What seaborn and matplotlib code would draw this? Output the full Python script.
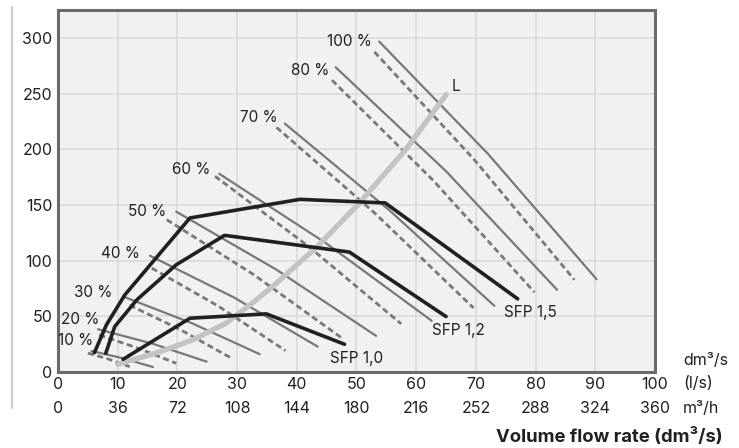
import matplotlib
matplotlib.use("Agg")
import matplotlib.pyplot as plt
from matplotlib.lines import Line2D
import seaborn as sns

# fan speed curves, start / middle / end point
speeds = ["10 %", "20 %", "30 %", "40 %", "50 %", "60 %", "70 %", "80 %", "100 %"]
solid_x = [[5.6, 10.75, 15.9], [6.7, 15.8, 24.9], [10.9, 22.35, 33.8], [15.4, 29.45, 43.5],
           [19.8, 36.55, 53.3], [27.0, 44.8, 62.6], [38.0, 55.55, 73.1], [46.5, 65.05, 83.6],
           [53.8, 72.0, 90.2]]
solid_y = [[18.9, 12.5, 4.5], [38.4, 25.5, 9.3], [67.8, 44.0, 16.0], [104.4, 67.0, 22.8],
           [144.0, 92.0, 32.4], [178.0, 116.0, 46.0], [223.0, 145.0, 59.4], [273.6, 180.0, 73.8],
           [296.7, 196.0, 83.4]]
dashed_x = [[5.0, 8.5, 12.0], [6.9, 13.35, 19.8], [12.0, 20.5, 29.0], [15.7, 26.9, 38.1],
            [18.2, 32.9, 47.6], [26.3, 41.9, 57.5], [36.6, 53.1, 69.6], [45.9, 62.85, 79.8],
            [53.0, 69.75, 86.5]]
dashed_y = [[17.0, 11.5, 4.8], [33.3, 21.5, 7.8], [60.0, 38.0, 12.6], [93.3, 59.0, 19.2],
            [136.8, 87.0, 30.3], [175.8, 113.0, 43.2], [219.6, 142.5, 57.5], [262.0, 172.0, 71.7],
            [287.4, 190.5, 82.8]]
# where the speed labels sit (right edge of text)
label_x = [5.9, 6.9, 9.15, 13.7, 18.2, 25.6, 36.8, 45.5, 52.5]
label_y = [28.1, 47.3, 71.0, 106.0, 144.4, 182.2, 228.4, 270.5, 296.5]

# system curve L
l_x = [10.0, 17.0, 22.6, 28.2, 32.1, 36.0, 43.3, 50.2, 58.3, 65.0]
l_y = [7.0, 18.0, 29.0, 44.0, 60.0, 77.0, 112.0, 150.0, 200.0, 249.0]

# SFP lines
sfp_names = ["SFP 1,0", "SFP 1,2", "SFP 1,5"]
sfp_x = [[10.9, 22.1, 34.9, 48.0],
         [8.0, 9.5, 13.2, 19.8, 27.9, 48.8, 65.0],
         [6.1, 8.1, 11.2, 22.1, 40.5, 54.8, 77.0]]
sfp_y = [[11.4, 48.3, 52.2, 24.9],
         [16.8, 40.8, 64.8, 96.3, 122.7, 107.7, 49.8],
         [17.4, 42.3, 69.3, 138.3, 155.0, 151.8, 65.7]]

x_ticks = [0, 10, 20, 30, 40, 50, 60, 70, 80, 90, 100]
m3h = [0, 36, 72, 108, 144, 180, 216, 252, 288, 324, 360]
y_ticks = [0, 50, 100, 150, 200, 250, 300]

sns.set_theme(style="whitegrid")
plt.rcParams["font.family"] = ["Inter", "DejaVu Sans"]
text_col = "#231f20"
gray = "#787878"
fs = 11.5
fs_in = 11

fig = plt.figure(figsize=(7.39, 4.48), dpi=100)
ax = fig.add_axes([0.0785, 0.1696, 0.8078, 0.8081])
ax.set_facecolor("#f0f1f1")

for i in range(len(speeds)):
    sns.lineplot(x=dashed_x[i], y=dashed_y[i], ax=ax, color=gray, linewidth=2.0,
                 linestyle=(0, (2.2, 1.3)), sort=False, estimator=None)
    sns.lineplot(x=solid_x[i], y=solid_y[i], ax=ax, color=gray, linewidth=1.6,
                 sort=False, estimator=None)
    ax.text(label_x[i], label_y[i], speeds[i], ha="right", va="center",
            fontsize=fs_in, color=text_col)

sns.lineplot(x=l_x, y=l_y, ax=ax, color="#c3c3c3", linewidth=3.8, sort=False, estimator=None)
ax.annotate("L", xy=(l_x[-1], l_y[-1]), xytext=(7, 6), textcoords="offset points",
            ha="center", va="center", fontsize=fs_in, color=text_col)

for name, xs, ys in zip(sfp_names, sfp_x, sfp_y):
    sns.lineplot(x=xs, y=ys, ax=ax, color=text_col, linewidth=2.6, sort=False, estimator=None)
    ax.annotate(name, xy=(xs[-1], ys[-1]), xytext=(9, -10), textcoords="offset points",
                ha="center", va="center", fontsize=fs_in, color=text_col)

ax.set_xlim(0, 100)
ax.set_ylim(0, 325)
ax.set_xticks(x_ticks)
ax.set_yticks(y_ticks)
ax.set_xticklabels([str(v) for v in x_ticks])
ax.set_yticklabels([str(v) for v in y_ticks])
ax.tick_params(length=0, labelsize=fs, colors=text_col)
ax.tick_params(axis="x", pad=3.5)
ax.tick_params(axis="y", pad=4)
ax.grid(True, color="#d9d9d9", linewidth=1.1)
ax.set_xlabel("")
ax.set_ylabel("")
for s in ax.spines.values():
    s.set_visible(True)
    s.set_color("#6b6b6b")
    s.set_linewidth(2.2)

# second row of x labels in m3/h
for v, m in zip(x_ticks, m3h):
    ax.annotate(str(m), xy=(v, 0), xycoords=("data", "axes fraction"), xytext=(0, -26),
                textcoords="offset points", ha="center", va="center", fontsize=fs, color=text_col)

fig.text(683 / 739, 1 - 360 / 448, "dm³/s", ha="left", va="center", fontsize=fs, color=text_col)
fig.text(683 / 739, 1 - 384 / 448, "(l/s)", ha="left", va="center", fontsize=fs, color=text_col)
fig.text(683 / 739, 1 - 408 / 448, "m³/h", ha="left", va="center", fontsize=fs, color=text_col)
fig.text(723 / 739, 1 - 437 / 448, "Volume flow rate (dm³/s)", ha="right", va="center",
         fontsize=13.3, fontweight="bold", color=text_col)

fig.add_artist(Line2D([11.5 / 739] * 2, [1 - 7 / 448, 1 - 408 / 448], color="#cccccc", linewidth=1.5))

plt.savefig("out.png", dpi=100)
